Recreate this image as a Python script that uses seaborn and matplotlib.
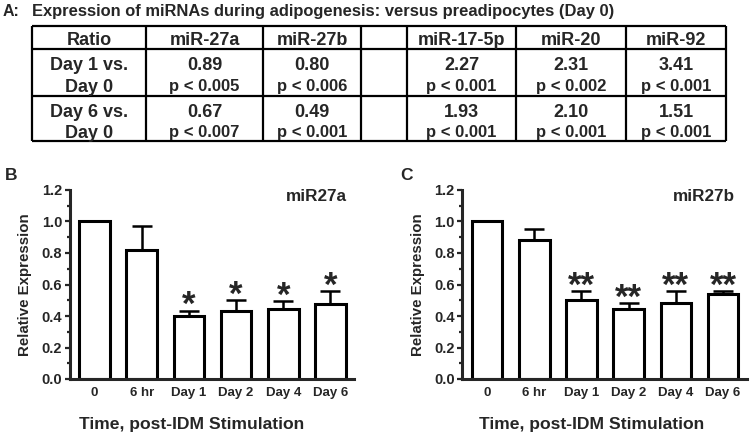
import numpy as np
import pandas as pd
import matplotlib
matplotlib.use("Agg")
import matplotlib.pyplot as plt
from matplotlib.ticker import MultipleLocator, FormatStrFormatter
import seaborn as sns

# ---------------- data ----------------
table_title = "Expression of miRNAs during adipogenesis: versus preadipocytes (Day 0)"
table_mirnas = ["miR-27a", "miR-27b", "", "miR-17-5p", "miR-20", "miR-92"]
ratio_labels = ["Day 1 vs.\nDay 0", "Day 6 vs.\nDay 0"]
day1_ratio = ["0.89", "0.80", "", "2.27", "2.31", "3.41"]
day1_pval = ["p < 0.005", "p < 0.006", "", "p < 0.001", "p < 0.002", "p < 0.001"]
day6_ratio = ["0.67", "0.49", "", "1.93", "2.10", "1.51"]
day6_pval = ["p < 0.007", "p < 0.001", "", "p < 0.001", "p < 0.001", "p < 0.001"]

time_points = ["0", "6 hr", "Day 1", "Day 2", "Day 4", "Day 6"]
mir27a_mean = [1.00, 0.82, 0.40, 0.43, 0.447, 0.478]
mir27a_err = [0.0, 0.15, 0.034, 0.07, 0.046, 0.08]
mir27a_sig = ["", "", "*", "*", "*", "*"]
mir27b_mean = [1.00, 0.882, 0.50, 0.444, 0.484, 0.537]
mir27b_err = [0.0, 0.07, 0.06, 0.038, 0.072, 0.019]
mir27b_sig = ["", "", "**", "**", "**", "**"]

# ---------------- style ----------------
sns.set_style("ticks")
plt.rcParams["font.family"] = ["Liberation Sans", "DejaVu Sans"]
plt.rcParams["font.weight"] = "bold"

W, H = 750, 434
fig = plt.figure(figsize=(W / 100, H / 100), dpi=100)

# ---------------- table (pixel-space overlay) ----------------
tab = fig.add_axes([0, 0, 1, 1])
tab.set_xlim(0, W)
tab.set_ylim(H, 0)
tab.axis("off")

col_edges = [32, 146, 263, 361, 407, 516, 626, 726]
row_edges = [26, 49, 96, 141]
lw_tab = 1.6
tab.hlines(row_edges, col_edges[0], col_edges[-1], color="black", lw=lw_tab)
tab.vlines(col_edges, row_edges[0], row_edges[-1], color="black", lw=lw_tab)

tab.text(3, 15.7, "A:", fontsize=11.5, fontweight="bold", ha="left", va="baseline")
tab.text(31.7, 15.7, table_title, fontsize=11.9, fontweight="bold", ha="left", va="baseline")

centers = [(col_edges[i] + col_edges[i + 1]) / 2 for i in range(len(col_edges) - 1)]
tab.text(centers[0], 45, "Ratio", fontsize=13, fontweight="bold", ha="center", va="baseline")
for j, name in enumerate(table_mirnas):
    tab.text(centers[j + 1], 45, name, fontsize=13, fontweight="bold", ha="center", va="baseline")

row_base = [(70, 91.5), (116.7, 137.5)]
for r, (lab, ratios, pvals) in enumerate(zip(ratio_labels, [day1_ratio, day6_ratio], [day1_pval, day6_pval])):
    l1, l2 = lab.split("\n")
    b1, b2 = row_base[r]
    tab.text(centers[0], b1, l1, fontsize=13, fontweight="bold", ha="center", va="baseline")
    tab.text(centers[0], b2, l2, fontsize=13, fontweight="bold", ha="center", va="baseline")
    for j in range(len(table_mirnas)):
        tab.text(centers[j + 1], b1, ratios[j], fontsize=13, fontweight="bold", ha="center", va="baseline")
        tab.text(centers[j + 1], b2 - 0.5, pvals[j], fontsize=12, fontweight="bold", ha="center", va="baseline")

# ---------------- bar panels ----------------
def px_axes(left, right, top, bottom):
    return fig.add_axes([left / W, 1 - bottom / H, (right - left) / W, (bottom - top) / H])

panels = [
    dict(left=69.5, right=354, mean=mir27a_mean, err=mir27a_err, sig=mir27a_sig,
         name="miR27a", name_x=0.975, letter="B", letter_x=5, xlab_x=0.43),
    dict(left=462, right=746.7, mean=mir27b_mean, err=mir27b_err, sig=mir27b_sig,
         name="miR27b", name_x=0.959, letter="C", letter_x=400, xlab_x=0.455),
]

for p in panels:
    ax = px_axes(p["left"], p["right"], 190, 379)
    df = pd.DataFrame({"time": time_points, "value": p["mean"]})
    sns.barplot(data=df, x="time", y="value", ax=ax, color="white", saturation=1,
                edgecolor="black", linewidth=2.2, width=0.65, errorbar=None, zorder=2)
    pos = np.arange(len(time_points))
    mean = np.array(p["mean"])
    err = np.array(p["err"])
    ax.errorbar(pos, mean, yerr=[np.zeros_like(err), err], fmt="none", ecolor="black",
                elinewidth=1.8, capsize=7, capthick=1.8, zorder=3)
    for i, s in enumerate(p["sig"]):
        if s:
            ax.annotate(s, (pos[i], mean[i] + err[i]), xytext=(0, -3.3), textcoords="offset points",
                        ha="center", va="baseline", fontsize=25, fontweight="bold")
    ax.set_xlim(-0.53, 5.5)
    ax.set_ylim(0, 1.2)
    ax.yaxis.set_major_locator(MultipleLocator(0.2))
    ax.yaxis.set_minor_locator(MultipleLocator(0.1))
    ax.yaxis.set_major_formatter(FormatStrFormatter("%.1f"))
    for s in ["top", "right"]:
        ax.spines[s].set_visible(False)
    for s in ["left", "bottom"]:
        ax.spines[s].set_linewidth(2.2)
    ax.tick_params(axis="y", which="major", length=3.8, width=1.6, pad=1.5, labelsize=10.5)
    ax.tick_params(axis="y", which="minor", length=2.4, width=1.6)
    ax.tick_params(axis="x", length=0, pad=5.5, labelsize=9.5)
    for lab in ax.get_xticklabels() + ax.get_yticklabels():
        lab.set_fontweight("bold")
    ax.set_ylabel("Relative Expression", fontsize=10.8, fontweight="bold")
    ax.yaxis.set_label_coords(-44 / (p["right"] - p["left"]), 0.5)
    ax.yaxis.label.set_verticalalignment("center")
    ax.set_xlabel("Time, post-IDM Stimulation", fontsize=12.6, fontweight="bold")
    ax.xaxis.set_label_coords(p["xlab_x"], -0.263)
    ax.xaxis.label.set_verticalalignment("baseline")
    ax.text(p["name_x"], 0.963, p["name"], transform=ax.transAxes, ha="right", va="center",
            fontsize=12.3, fontweight="bold")
    fig.text(p["letter_x"] / W, 1 - 180 / H, p["letter"], ha="left", va="baseline",
             fontsize=12.5, fontweight="bold")

fig.savefig("out.png", dpi=100)
